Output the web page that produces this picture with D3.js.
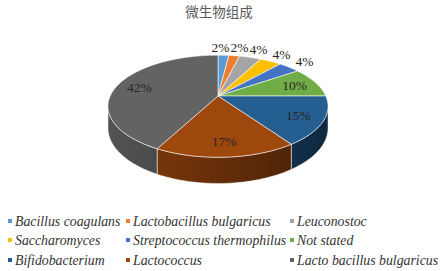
<!DOCTYPE html>
<html lang="zh">
<head>
<meta charset="UTF-8">
<title>微生物组成</title>
<script src="https://cdn.jsdelivr.net/npm/d3@7"></script>
<style>
    body { margin: 0; background: #fff; }
    svg { display: block; }
    .title { font-family: "Noto Sans CJK SC", sans-serif; font-size: 13.5px; fill: #595959; }
    .pct { font-family: "Liberation Serif", "Times New Roman", serif; font-size: 13.5px; fill: #262626; }
    .legend text { font-family: "Liberation Serif", "Times New Roman", serif; font-style: italic; font-size: 13.8px; fill: #333; }
</style>
</head>
<body>
<script>
    // 数据
    var categories = ["Bacillus coagulans", "Lactobacillus bulgaricus", "Leuconostoc",
        "Saccharomyces", "Streptococcus thermophilus", "Not stated",
        "Bifidobacterium", "Lactococcus", "Lacto bacillus bulgaricus"]
    var counts = [1, 1, 2, 2, 2, 5, 8, 9, 22]
    var colors = ["#5B9BD5", "#ED7D31", "#A5A5A5", "#FFC000", "#4472C4",
        "#70AD47", "#255E91", "#9E480E", "#636363"]

    var width = 444, height = 271
    var svg = d3.select("body").append("svg")
        .attr("width", width)
        .attr("height", height)

    svg.append("text").attr("class", "title")
        .attr("x", 219).attr("y", 17)
        .attr("text-anchor", "middle")
        .text("微生物组成")

    var total = d3.sum(counts)
    var arcs = d3.pie().sort(null).value(function(d) { return d })(counts)

    // 透视参数
    var k = 0.2, depth = 21, cx = 218, cy = 96
    var sx = d3.scaleLinear().domain([-1, 1]).range([cx - 107.8, cx + 107.8])
    var sy = d3.scaleLinear().domain([-1, 1]).range([cy + 49, cy - 49])

    function proj(r, a, z) {
        var u = r * Math.sin(a), v = r * Math.cos(a), w = 1 + k * v
        return [sx(u / w), sy(v / w) + (z || 0) * depth / w]
    }
    function rim(a0, a1, z) {
        var n = Math.max(2, Math.ceil((a1 - a0) / 0.02)), pts = []
        for (var i = 0; i <= n; i++) pts.push(proj(1, a0 + (a1 - a0) * i / n, z))
        return pts
    }
    var line = d3.line()

    var defs = svg.append("defs")
    arcs.forEach(function(d, i) {
        var c = d3.color(colors[i])
        var g = defs.append("linearGradient").attr("id", "side" + i)
            .attr("gradientUnits", "userSpaceOnUse")
            .attr("x1", sx(-1)).attr("x2", sx(1))
        g.append("stop").attr("offset", 0).attr("stop-color", c.darker(0.5))
        g.append("stop").attr("offset", 1).attr("stop-color", c.darker(2.3))
    })

    // 侧面
    var sil = Math.acos(-k)
    arcs.forEach(function(d, i) {
        var lo = Math.max(d.startAngle, sil), hi = Math.min(d.endAngle, 2 * Math.PI - sil)
        if (lo >= hi) return
        var pts = rim(lo, hi, 0).concat(rim(lo, hi, 1).reverse())
        svg.append("path")
            .attr("d", line(pts) + "Z")
            .attr("fill", "url(#side" + i + ")")
            .attr("stroke", "#fff").attr("stroke-opacity", 0.6).attr("stroke-width", 0.8)
    })

    // 顶面
    svg.selectAll(".slice").data(arcs).enter().append("path")
        .attr("class", "slice")
        .attr("d", function(d) {
            return line([proj(0, 0)].concat(rim(d.startAngle, d.endAngle, 0))) + "Z"
        })
        .attr("fill", function(d, i) { return colors[i] })
        .attr("stroke", "#fff").attr("stroke-opacity", 0.7).attr("stroke-width", 0.8)

    // 百分比标签位置（小扇区放外侧并避让）
    var labels = arcs.map(function(d) {
        var share = d.value / total
        var p = proj(share < 0.05 ? 1.25 : 0.78, (d.startAngle + d.endAngle) / 2)
        return { d: d, x: p[0], y: p[1], out: share < 0.05 }
    })
    var gap = 19
    for (var it = 0; it < 30; it++) {
        for (var i = 1; i < labels.length; i++) {
            var a = labels[i - 1], b = labels[i]
            if (!a.out || !b.out) continue
            var dx = b.x - a.x
            if (dx < gap && Math.abs(b.y - a.y) < 12) {
                var s = (gap - dx) / 2
                a.x -= s; b.x += s
            }
        }
    }

    svg.selectAll(".pct").data(labels).enter().append("text")
        .attr("class", "pct")
        .attr("text-anchor", "middle")
        .attr("dominant-baseline", "central")
        .attr("x", function(l) { return l.x })
        .attr("y", function(l) { return l.y })
        .text(function(l) { return Math.round(l.d.value / total * 100) + "%" })

    // 图例
    var colX = [10, 128, 292], rowY = [221, 240, 260]
    var item = svg.append("g").attr("class", "legend")
        .selectAll("g").data(categories).enter().append("g")
        .attr("transform", function(d, i) {
            return "translate(" + colX[i % 3] + "," + rowY[Math.floor(i / 3)] + ")"
        })
    item.append("rect")
        .attr("x", -2).attr("y", -2).attr("width", 4).attr("height", 4)
        .attr("fill", function(d, i) { return colors[i] })
    item.append("text")
        .attr("x", 5).attr("dominant-baseline", "central")
        .text(function(d) { return d })
</script>
</body>
</html>
